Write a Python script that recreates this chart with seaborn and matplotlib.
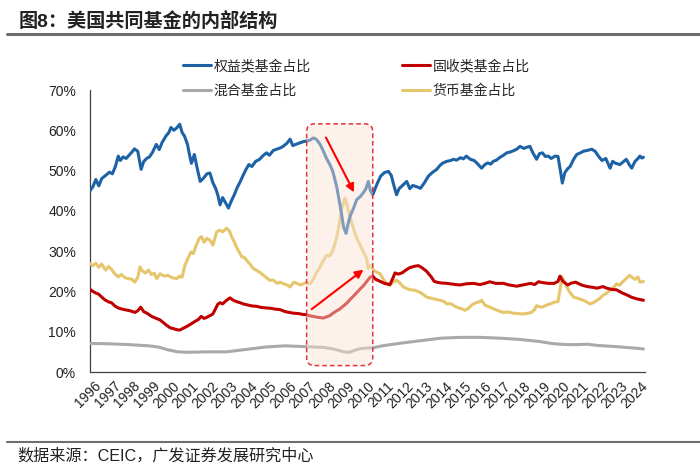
import numpy as np
import pandas as pd
import matplotlib
matplotlib.use("Agg")
import matplotlib.pyplot as plt
import seaborn as sns
from matplotlib.lines import Line2D
from matplotlib.patches import FancyBboxPatch

# ---------------- data (decimal year, percent) ----------------
equity_t = [1996.00,1996.15,1996.30,1996.45,1996.60,1996.80,1997.00,1997.15,1997.30,1997.45,1997.55,1997.70,1997.85,
            1998.00,1998.15,1998.28,1998.45,1998.62,1998.75,1998.90,1999.05,1999.20,1999.40,1999.55,1999.70,1999.90,
            2000.05,2000.15,2000.30,2000.45,2000.60,2000.72,2000.85,2001.00,2001.10,2001.20,2001.35,2001.50,2001.65,2001.80,
            2002.00,2002.15,2002.30,2002.45,2002.55,2002.67,2002.80,2002.95,2003.10,2003.25,2003.40,2003.55,2003.70,2003.85,
            2004.00,2004.15,2004.30,2004.50,2004.70,2004.85,2005.05,2005.20,2005.40,2005.57,2005.75,2005.90,
            2006.10,2006.26,2006.40,2006.55,2006.77,2006.95,2007.10,2007.30,2007.45,2007.60,2007.80,2007.95,
            2008.13,2008.30,2008.45,2008.65,2008.80,2008.92,2009.00,2009.13,2009.22,2009.33,2009.50,2009.68,2009.85,
            2010.00,2010.15,2010.27,2010.38,2010.50,2010.62,2010.75,2010.90,2011.10,2011.30,2011.45,2011.60,2011.72,2011.85,
            2012.00,2012.24,2012.40,2012.55,2012.75,2012.95,2013.15,2013.35,2013.55,2013.78,2013.95,
            2014.10,2014.30,2014.50,2014.63,2014.80,2015.00,2015.15,2015.30,2015.50,2015.70,2015.85,
            2016.08,2016.25,2016.40,2016.55,2016.68,2016.85,2017.00,2017.20,2017.37,2017.55,2017.75,2017.88,
            2018.05,2018.25,2018.40,2018.56,2018.70,2018.90,2019.05,2019.20,2019.35,2019.50,2019.65,2019.85,
            2020.00,2020.12,2020.22,2020.35,2020.50,2020.62,2020.80,2020.96,2021.15,2021.30,2021.50,2021.73,2021.90,
            2022.07,2022.25,2022.45,2022.67,2022.80,2022.95,2023.18,2023.35,2023.50,2023.65,2023.78,2023.95,
            2024.10,2024.20,2024.30,2024.38]
equity_v = [45.0,46.0,47.8,46.2,48.0,48.8,49.6,49.2,51.0,53.6,52.5,53.4,53.0,
            53.8,54.6,55.4,54.8,50.3,52.2,53.0,53.4,54.5,56.5,55.2,57.0,58.6,
            59.5,60.7,60.0,60.6,61.5,59.5,58.5,56.5,54.0,51.8,54.0,50.5,47.3,48.0,
            49.2,49.4,47.0,45.5,44.0,41.5,43.3,42.0,40.7,42.5,44.0,45.8,47.2,48.8,
            50.3,51.5,51.0,52.3,52.8,53.6,54.4,53.8,55.0,55.3,55.6,56.0,
            56.8,57.8,56.2,56.5,56.9,57.2,57.3,57.6,58.1,57.8,56.5,55.0,
            53.0,51.5,49.8,46.0,42.0,38.6,36.0,34.4,36.5,38.6,40.5,42.8,43.5,
            44.4,45.5,47.3,45.0,44.0,45.5,47.0,48.6,49.5,49.8,48.8,46.0,44.0,45.5,
            46.2,47.3,45.5,46.3,46.0,45.6,47.0,48.6,49.5,50.3,51.3,
            51.9,52.3,52.5,52.8,52.6,53.2,52.9,53.6,52.8,52.5,51.8,
            50.6,51.5,51.9,51.6,52.3,52.6,53.2,53.8,54.4,54.6,55.0,55.3,
            56.0,55.5,55.8,56.0,54.5,52.8,54.2,54.4,53.5,53.6,53.0,53.6,
            53.5,50.0,46.9,49.5,50.5,51.0,52.8,54.0,54.4,54.8,55.0,55.3,54.8,
            53.6,52.5,53.0,50.6,52.3,51.8,51.5,52.2,52.8,51.5,50.6,52.3,
            53.0,53.6,53.1,53.3]

money_t = [1996.00,1996.15,1996.30,1996.45,1996.60,1996.80,1996.95,1997.10,1997.25,1997.45,1997.60,1997.80,1997.95,
           1998.15,1998.30,1998.45,1998.56,1998.70,1998.85,1999.00,1999.15,1999.30,1999.42,1999.60,1999.80,
           2000.00,2000.20,2000.44,2000.60,2000.72,2000.87,2001.05,2001.18,2001.30,2001.45,2001.60,2001.72,2001.85,
           2002.00,2002.15,2002.30,2002.50,2002.65,2002.80,2003.00,2003.15,2003.26,2003.40,2003.50,2003.65,2003.78,2003.90,
           2004.04,2004.20,2004.37,2004.55,2004.80,2005.00,2005.20,2005.40,2005.60,2005.74,2005.90,
           2006.10,2006.26,2006.45,2006.60,2006.80,2006.94,2007.10,2007.28,2007.45,2007.60,2007.80,2007.95,
           2008.13,2008.30,2008.46,2008.60,2008.73,2008.90,2009.00,2009.08,2009.18,2009.33,2009.45,2009.59,2009.75,2009.93,
           2010.05,2010.18,2010.27,2010.40,2010.55,2010.70,2010.87,2011.05,2011.20,2011.38,2011.55,2011.72,2011.85,
           2012.05,2012.24,2012.45,2012.65,2012.92,2013.10,2013.26,2013.50,2013.75,2013.95,
           2014.15,2014.30,2014.46,2014.65,2014.80,2015.00,2015.23,2015.40,2015.55,2015.66,2015.80,
           2016.00,2016.08,2016.25,2016.45,2016.68,2016.90,2017.05,2017.20,2017.45,2017.70,2017.95,
           2018.20,2018.45,2018.65,2018.80,2018.90,2019.05,2019.20,2019.40,2019.60,2019.80,
           2020.00,2020.12,2020.20,2020.32,2020.45,2020.60,2020.80,2021.00,2021.30,2021.50,2021.64,2021.80,
           2022.00,2022.15,2022.30,2022.50,2022.67,2022.85,2023.00,2023.15,2023.30,2023.50,2023.67,2023.80,2023.95,
           2024.10,2024.20,2024.38]
money_v = [26.9,26.4,27.0,26.0,26.8,25.3,26.2,25.5,24.5,23.6,24.2,23.4,23.2,
           23.0,22.3,23.5,26.1,25.0,24.6,25.3,24.2,24.5,23.2,24.4,23.8,
           24.0,23.4,23.2,23.8,23.5,26.5,28.5,29.8,29.4,31.5,33.2,33.6,32.2,
           33.2,32.7,31.5,34.8,35.2,34.8,35.7,35.0,33.6,32.3,31.1,29.8,28.6,28.5,
           27.7,26.8,25.7,25.2,24.4,23.6,22.8,22.8,22.0,22.3,22.0,
           21.6,21.1,22.3,22.0,21.6,21.9,22.2,21.9,23.0,24.5,26.1,27.5,
           29.0,28.8,30.3,32.5,35.3,40.3,42.0,43.2,41.5,38.6,36.5,34.4,32.5,30.7,
           29.5,28.2,25.7,26.5,25.2,24.8,24.4,23.0,22.0,21.5,22.3,22.8,22.3,
           21.2,20.7,20.4,20.3,19.8,19.2,18.6,18.3,18.0,17.8,
           17.5,16.9,17.0,16.5,16.1,15.8,15.3,15.8,16.5,16.9,17.2,
           17.5,17.8,16.6,16.2,15.7,15.3,15.0,14.8,14.9,14.6,14.5,
           14.4,14.6,14.8,15.5,16.5,16.2,16.1,16.6,16.9,17.3,
           17.5,21.0,23.6,22.5,21.1,19.8,18.6,18.3,17.8,17.3,16.9,17.2,
           17.8,18.3,19.0,19.6,20.3,21.0,21.9,21.5,22.3,23.2,24.0,23.5,23.0,
           23.6,22.3,22.5]

bond_t = [1996.00,1996.15,1996.30,1996.45,1996.60,1996.77,1996.95,1997.10,1997.30,1997.45,1997.65,1997.85,
          1998.05,1998.30,1998.45,1998.60,1998.75,1998.95,1999.16,1999.35,1999.60,1999.80,1999.93,
          2000.10,2000.25,2000.45,2000.60,2000.80,2001.00,2001.20,2001.40,2001.55,2001.70,2001.85,
          2002.00,2002.15,2002.30,2002.45,2002.55,2002.67,2002.80,2003.00,2003.18,2003.35,2003.50,2003.70,2003.85,
          2004.04,2004.30,2004.55,2004.80,2005.06,2005.30,2005.50,2005.74,2006.00,2006.20,2006.43,2006.70,2006.90,
          2007.10,2007.30,2007.45,2007.65,2007.80,2007.95,2008.15,2008.30,2008.46,2008.65,2008.80,2008.97,
          2009.15,2009.30,2009.50,2009.70,2009.85,2010.00,2010.20,2010.36,2010.50,2010.65,2010.87,
          2011.10,2011.38,2011.55,2011.64,2011.80,2012.00,2012.20,2012.40,2012.60,2012.84,
          2013.05,2013.26,2013.50,2013.65,2013.78,2014.00,2014.30,2014.60,2014.97,2015.30,2015.66,
          2016.00,2016.25,2016.50,2016.80,2017.20,2017.50,2017.88,2018.20,2018.60,2018.80,
          2019.00,2019.20,2019.50,2019.80,2020.00,2020.10,2020.25,2020.50,2020.70,2020.90,
          2021.20,2021.50,2021.80,2022.00,2022.30,2022.50,2022.75,2023.00,2023.30,2023.50,2023.75,
          2024.00,2024.20,2024.38]
bond_v = [20.5,20.0,19.6,19.3,18.6,17.9,17.4,17.2,16.3,15.9,15.6,15.4,
          15.2,14.8,15.2,16.1,15.0,14.5,13.8,13.4,12.9,12.1,11.6,
          11.0,10.8,10.5,10.4,10.9,11.4,12.0,12.6,13.0,13.8,13.3,
          13.6,14.0,14.4,15.8,16.8,17.2,16.9,17.8,18.4,17.8,17.5,17.2,16.9,
          16.7,16.4,16.3,16.0,15.9,15.8,15.6,15.5,15.0,14.8,14.6,14.5,14.3,
          14.2,13.9,13.8,13.6,13.5,13.4,13.7,14.0,14.6,15.2,15.6,16.3,
          17.0,17.8,18.8,19.8,20.6,21.3,22.5,23.5,23.8,23.0,22.5,
          22.0,21.7,23.5,24.6,24.3,24.6,25.3,25.9,26.2,26.4,
          25.8,25.0,23.6,22.5,22.3,22.1,22.0,21.8,21.6,21.9,22.0,
          21.7,22.0,22.4,22.0,22.0,21.6,21.3,21.6,22.0,21.7,
          22.4,22.2,22.0,22.0,22.5,23.8,22.5,21.6,22.1,22.3,
          21.6,21.2,21.0,20.8,21.2,20.8,20.5,20.4,19.6,19.2,18.6,
          18.2,18.0,17.8]

hybrid_t = [1996.0,1997.0,1998.0,1999.0,1999.5,2000.0,2000.5,2001.0,2002.0,2003.0,2003.5,2004.0,2005.0,2006.0,
            2007.0,2008.0,2008.5,2009.0,2009.3,2009.7,2010.0,2010.5,2011.0,2012.0,2013.0,2014.0,2015.0,2016.0,
            2017.0,2018.0,2019.0,2019.8,2020.5,2021.0,2021.5,2022.0,2023.0,2024.0,2024.38]
hybrid_v = [7.1,7.0,6.8,6.5,6.2,5.5,5.0,4.9,5.0,5.0,5.3,5.6,6.2,6.5,
            6.3,6.1,5.7,5.0,4.9,5.6,5.9,6.0,6.5,7.2,7.8,8.4,8.6,8.6,
            8.4,8.1,7.6,7.0,6.8,6.8,6.9,6.6,6.3,5.9,5.7]

labels = ["权益类基金占比", "混合基金占比", "固收类基金占比", "货币基金占比"]
year_labels = [str(y) for y in range(1996, 2025)]
title = "图8：美国共同基金的内部结构"
source = "数据来源：CEIC，广发证券发展研究中心"

# ---------------- style ----------------
sns.set_theme(style="white")
plt.rcParams["font.family"] = ["Liberation Sans", "Noto Sans CJK SC", "DejaVu Sans"]
plt.rcParams["axes.unicode_minus"] = False

colors = {"权益类基金占比": "#1E62A6", "混合基金占比": "#A9A9A9",
          "固收类基金占比": "#C00000", "货币基金占比": "#E5C66C"}

fig = plt.figure(figsize=(7.0, 4.73), dpi=100)
ax = fig.add_axes([90/700, 1-372/473, (645-90)/700, (372-90)/473])

series = {
    "货币基金占比": (money_t, money_v),
    "混合基金占比": (hybrid_t, hybrid_v),
    "固收类基金占比": (bond_t, bond_v),
    "权益类基金占比": (equity_t, equity_v),
}
for name, (t, v) in series.items():
    df = pd.DataFrame({"t": t, "v": v})
    sns.lineplot(data=df, x="t", y="v", ax=ax, color=colors[name], lw=2.2,
                 estimator=None, sort=False, legend=False, zorder=3)

ax.set_xlim(1996.0, 2024.46)
ax.set_ylim(0, 70)
ax.set_xlabel("")
ax.set_ylabel("")

# y axis
ax.set_yticks(range(0, 71, 10))
ax.set_yticklabels([f"{v}%" for v in range(0, 71, 10)], fontsize=10, color="#222222")
ax.tick_params(axis="y", direction="out", length=3, width=0.8, pad=7, colors="#404040", labelcolor="#222222")

# x axis: ticks at year boundaries, labels near interval centres
ax.set_xticks(list(range(1997, 2025)))
ax.set_xticklabels([])
ax.tick_params(axis="x", which="major", direction="in", length=3.5, width=0.8, colors="#404040")
ax.set_xticks([y + 0.22 for y in range(1996, 2025)], minor=True)
ax.set_xticklabels(year_labels, minor=True, rotation=45, ha="right", rotation_mode="anchor",
                   fontsize=10, color="#222222")
ax.tick_params(axis="x", which="minor", length=0, pad=5)

for s in ["top", "right"]:
    ax.spines[s].set_visible(False)
for s in ["left", "bottom"]:
    ax.spines[s].set_color("#404040")
    ax.spines[s].set_linewidth(0.9)
ax.grid(False)

# highlight box (rounded, dashed)
fig.canvas.draw()
p0 = ax.transData.transform((2000, 0))
p1 = ax.transData.transform((2001, 1))
x_per_px = 1.0 / (p1[0] - p0[0])
y_per_px = 1.0 / (p1[1] - p0[1])
box = FancyBboxPatch((2007.11, 1.6), 2010.5 - 2007.11, 61.6 - 1.6,
                     boxstyle=f"round,pad=0,rounding_size={8*x_per_px}",
                     mutation_aspect=y_per_px / x_per_px,
                     facecolor=(0.985, 0.89, 0.83, 0.45), edgecolor="#E2343F",
                     linestyle=(0, (3, 2)), linewidth=1.1, zorder=4)
ax.add_patch(box)

arrow_kw = dict(arrowstyle="-|>", color="#FF0000", lw=1.5, mutation_scale=12, shrinkA=0, shrinkB=0)
ax.annotate("", xy=(2009.54, 44.6), xytext=(2008.1, 58.2), arrowprops=arrow_kw, zorder=5)
ax.annotate("", xy=(2010.02, 25.4), xytext=(2007.37, 15.6), arrowprops=arrow_kw, zorder=5)

# legend
handles = [Line2D([], [], color=colors[l], lw=2.2) for l in labels]
fig.legend(handles, labels, loc="upper left", bbox_to_anchor=(183/700, 1-59/473), ncol=2,
           frameon=False, handlelength=2.0, handletextpad=0.2,
           columnspacing=6.6, labelspacing=0.8, borderpad=0, borderaxespad=0,
           prop={"family": ["Noto Sans CJK SC"], "size": 10})

# title, rules and source
fig.text(19/700, 1-21/473, title, fontsize=13.8, fontweight="bold", ha="left", va="center",
         color="#222222", family=["Liberation Sans", "Noto Sans CJK SC"])
fig.add_artist(Line2D([7/700, 1.0], [1-34/473, 1-34/473], color="#6E6E6E", lw=2.2))
fig.add_artist(Line2D([7/700, 1.0], [1-442/473, 1-442/473], color="#6E6E6E", lw=1.5))
fig.text(17/700, 1-456/473, source, fontsize=11.6, ha="left", va="center", color="#222222",
         family=["Liberation Sans", "Noto Sans CJK SC"])

fig.savefig("out.png", dpi=100)
